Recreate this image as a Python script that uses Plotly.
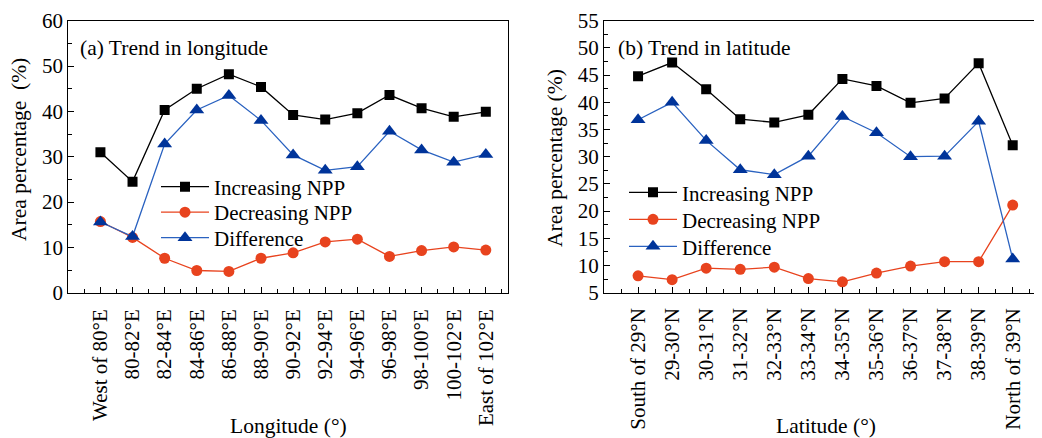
import plotly.graph_objects as go

lon_labels = ["West of 80°E", "80-82°E", "82-84°E", "84-86°E", "86-88°E", "88-90°E",
              "90-92°E", "92-94°E", "94-96°E", "96-98°E", "98-100°E", "100-102°E", "East of 102°E"]
lon_increasing = [31.0, 24.5, 40.3, 45.0, 48.2, 45.4, 39.2, 38.2, 39.6, 43.6, 40.7, 38.8, 39.9]
lon_decreasing = [15.7, 12.2, 7.6, 4.9, 4.7, 7.6, 8.8, 11.2, 11.8, 8.0, 9.3, 10.1, 9.4]
lon_difference = [15.6, 12.4, 32.8, 40.3, 43.5, 38.0, 30.4, 27.0, 27.8, 35.6, 31.5, 28.8, 30.5]

lat_labels = ["South of 29°N", "29-30°N", "30-31°N", "31-32°N", "32-33°N", "33-34°N",
              "34-35°N", "35-36°N", "36-37°N", "37-38°N", "38-39°N", "North of 39°N"]
lat_increasing = [44.8, 47.3, 42.4, 36.9, 36.3, 37.7, 44.3, 43.0, 39.9, 40.7, 47.2, 32.1]
lat_decreasing = [8.1, 7.4, 9.5, 9.3, 9.7, 7.6, 7.0, 8.6, 9.9, 10.7, 10.7, 21.1]
lat_difference = [36.8, 40.0, 33.0, 27.6, 26.7, 30.1, 37.4, 34.4, 30.0, 30.1, 36.5, 11.2]

series_names = ["Increasing NPP", "Decreasing NPP", "Difference"]

FONT = "Liberation Serif"
BLACK = "#000000"
RED = "#E8431E"
BLUE_LINE = "#2A62C0"
BLUE_MARK = "#00349A"

# page body has an 8px margin, so the figure starts at (8, 8) in the window
OFF = 8
W, H = 1042 - OFF, 438 - OFF
def px(x):
    return (x - OFF) / W
def py(y):
    return 1 - (y - OFF) / H

fig = go.Figure()

styles = [
    dict(line=dict(color=BLACK, width=1.3), marker=dict(symbol="square", size=10, color=BLACK)),
    dict(line=dict(color=RED, width=1.3), marker=dict(symbol="circle", size=11, color=RED)),
    dict(line=dict(color=BLUE_LINE, width=1.3), marker=dict(symbol="triangle-up", size=13, color=BLUE_MARK)),
]

lon_x = list(range(len(lon_labels)))
lat_x = list(range(len(lat_labels)))

for i, (name, vals, st) in enumerate(zip(series_names, [lon_increasing, lon_decreasing, lon_difference], styles)):
    fig.add_trace(go.Scatter(x=lon_x, y=vals, name=name, mode="lines+markers",
                             xaxis="x", yaxis="y", legend="legend" if i == 0 else f"legend{i+1}", **st))
for i, (name, vals, st) in enumerate(zip(series_names, [lat_increasing, lat_decreasing, lat_difference], styles)):
    fig.add_trace(go.Scatter(x=lat_x, y=vals, name=name, mode="lines+markers",
                             xaxis="x2", yaxis="y2", legend=f"legend{i+4}", **st))

ydom = [py(292.7), py(20.7)]
axis_common = dict(showline=True, linecolor="black", linewidth=1.2, mirror=True,
                   showgrid=False, zeroline=False, ticks="inside", ticklen=6,
                   tickwidth=1.2, tickcolor="black", automargin=False,
                   tickfont=dict(family=FONT, size=21, color="black"))
minor_common = dict(ticks="inside", ticklen=3.5, tickwidth=1.2, tickcolor="black")

def leg(x, y):
    return dict(x=px(x), y=py(y), xanchor="left", yanchor="middle",
                bgcolor="rgba(0,0,0,0)", font=dict(family=FONT, size=21),
                tracegroupgap=0, itemwidth=48, borderwidth=0)

left_rows = [187, 212.5, 238]
right_rows = [192.7, 219.7, 246.7]

fig.update_layout(
    width=W, height=H,
    margin=dict(l=0, r=0, t=0, b=0),
    paper_bgcolor="white", plot_bgcolor="white",
    font=dict(family=FONT, size=21, color="black"),
    xaxis=dict(domain=[px(68.3), px(508.3)], range=[-1.0, 12.7],
               tickmode="array", tickvals=lon_x, ticktext=lon_labels, tickangle=-90,
               ticklabelstandoff=7,
               minor=dict(dtick=0.5, tick0=-0.5, **minor_common),
               anchor="y", **axis_common),
    yaxis=dict(domain=ydom, range=[0, 60], dtick=10,
               minor=dict(dtick=5, **minor_common),
               anchor="x", **axis_common),
    xaxis2=dict(domain=[px(604), 1.0], range=[-1.0, 11.86],
                tickmode="array", tickvals=lat_x, ticktext=lat_labels, tickangle=-90,
                ticklabelstandoff=6,
                minor=dict(dtick=0.5, tick0=-0.5, **minor_common),
                anchor="y2", **axis_common),
    yaxis2=dict(domain=ydom, range=[5, 55], dtick=5,
                minor=dict(dtick=2.5, **minor_common),
                anchor="x2", **axis_common),
    legend=leg(156, left_rows[0]),
    legend2=leg(156, left_rows[1]),
    legend3=leg(156, left_rows[2]),
    legend4=leg(624, right_rows[0]),
    legend5=leg(624, right_rows[1]),
    legend6=leg(624, right_rows[2]),
    showlegend=True,
    annotations=[
        dict(text="(a) Trend in longitude", x=px(78), y=py(47.5), xref="paper", yref="paper",
             xanchor="left", yanchor="middle", showarrow=False, font=dict(family=FONT, size=21.5)),
        dict(text="(b) Trend in latitude", x=px(616), y=py(47.5), xref="paper", yref="paper",
             xanchor="left", yanchor="middle", showarrow=False, font=dict(family=FONT, size=21.5)),
        dict(text="Longitude (°)", x=px(288), y=py(426), xref="paper", yref="paper",
             xanchor="center", yanchor="middle", showarrow=False, font=dict(family=FONT, size=21.5)),
        dict(text="Latitude (°)", x=px(826), y=py(426), xref="paper", yref="paper",
             xanchor="center", yanchor="middle", showarrow=False, font=dict(family=FONT, size=21.5)),
        dict(text="Area percentage  (%)", x=px(19), y=py(150), xref="paper", yref="paper",
             xanchor="center", yanchor="middle", textangle=-90, showarrow=False, font=dict(family=FONT, size=21.5)),
        dict(text="Area percentage (%)", x=px(555), y=py(158), xref="paper", yref="paper",
             xanchor="center", yanchor="middle", textangle=-90, showarrow=False, font=dict(family=FONT, size=21.5)),
    ],
)

fig.write_html("out.html")
